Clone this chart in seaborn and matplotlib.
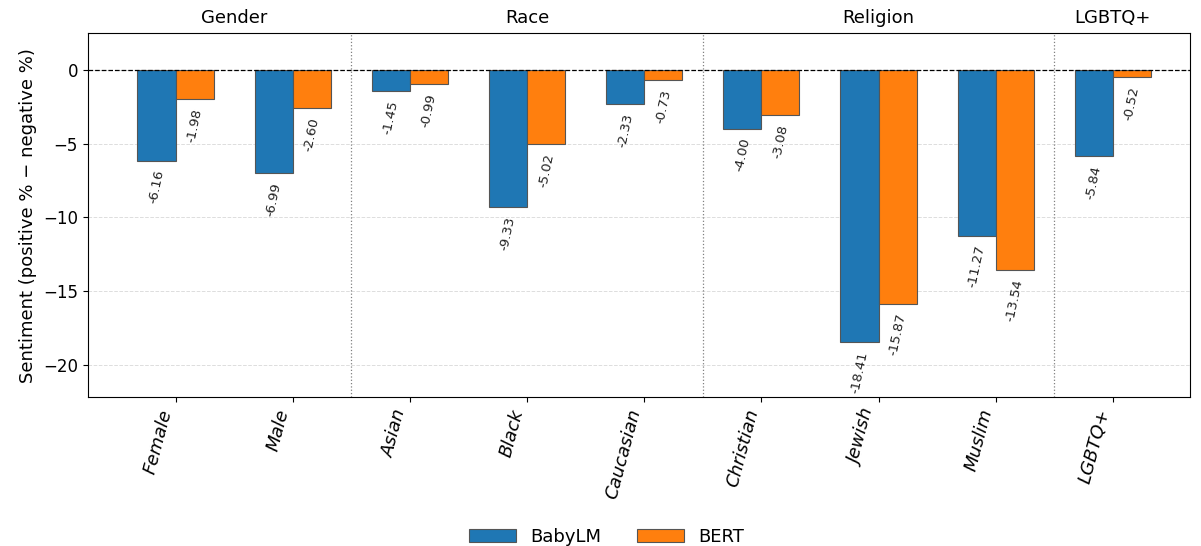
import pandas as pd
import numpy as np
import matplotlib.pyplot as plt
import seaborn as sns

categories = ['Female', 'Male', 'Asian', 'Black', 'Caucasian',
              'Christian', 'Jewish', 'Muslim', 'LGBTQ+']
babylm = [-6.16, -6.99, -1.45, -9.33, -2.33, -4.00, -18.41, -11.27, -5.84]
bert = [-1.98, -2.60, -0.99, -5.02, -0.73, -3.08, -15.87, -13.54, -0.52]
groups = ['Gender', 'Race', 'Religion', 'LGBTQ+']
group_sizes = [2, 3, 3, 1]
models = ['BabyLM', 'BERT']
colors = ['#1f77b4', '#ff7f0e']

df = pd.DataFrame({
    'category': categories * 2,
    'model': ['BabyLM'] * len(categories) + ['BERT'] * len(categories),
    'value': babylm + bert,
})

fig, ax = plt.subplots(figsize=(12.01, 5.46), dpi=100)
sns.barplot(data=df, x='category', y='value', hue='model', order=categories,
            hue_order=models, palette=colors, saturation=1, width=0.65, ax=ax,
            edgecolor='#555555', linewidth=0.8, errorbar=None, zorder=3)

# value labels under each bar
for cont in ax.containers:
    for bar in cont:
        h = bar.get_height()
        ax.annotate(f'{h:.2f}', (bar.get_x() + bar.get_width() / 2, h),
                    xytext=(0, -6), textcoords='offset points',
                    ha='center', va='top', rotation=78, fontsize=9.5,
                    color='#222222')

ax.axhline(0, color='black', linestyle='--', linewidth=0.9, zorder=4)
ax.yaxis.grid(True, linestyle='--', color='#dddddd', linewidth=0.7, zorder=0)
ax.set_axisbelow(True)

# group separators and titles
start = 0
for g, n in zip(groups, group_sizes):
    center = start + (n - 1) / 2
    ax.text(center, 1.015, g, transform=ax.get_xaxis_transform(),
            ha='center', va='bottom', fontsize=13)
    if start + n < len(categories):
        ax.axvline(start + n - 0.5, color='gray', linestyle=':', linewidth=0.9)
    start += n

ax.set_xlim(-0.75, 8.66)
ax.set_ylim(-22.2, 2.5)
ax.set_xlabel('')
ax.set_ylabel('Sentiment (positive % \u2212 negative %)', fontsize=13)
ax.tick_params(axis='y', labelsize=12)
ax.set_xticks(range(len(categories)))
ax.set_xticklabels(categories, rotation=75, fontsize=13, style='italic',
                   ha='right')

handles, labels = ax.get_legend_handles_labels()
ax.legend_.remove()
fig.legend(handles, labels, loc='lower center', bbox_to_anchor=(0.505, -0.03),
           ncol=2, frameon=False, fontsize=13, handlelength=2.6)

plt.subplots_adjust(left=0.073, right=0.991, top=0.94, bottom=0.272)
plt.savefig('out.png', dpi=100)
